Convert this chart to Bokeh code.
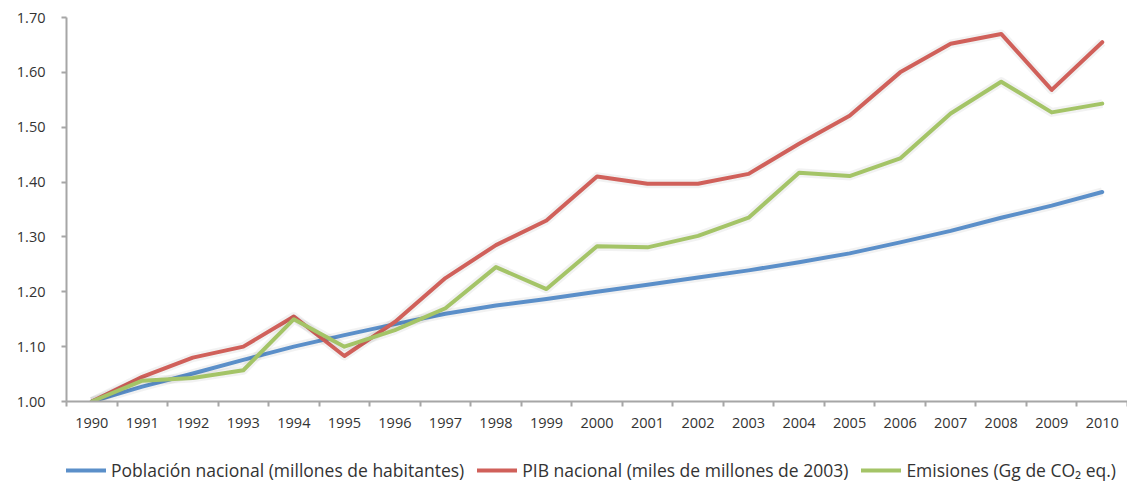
from bokeh.plotting import figure
from bokeh.models import FixedTicker, Legend, LegendItem, CustomJSTickFormatter, NumeralTickFormatter, Range1d
from bokeh.layouts import column
from bokeh.embed import file_html
from bokeh.resources import INLINE

years = list(range(1990, 2011))
poblacion = [1.000, 1.027, 1.051, 1.076, 1.100, 1.121, 1.141, 1.160, 1.175, 1.187, 1.200,
             1.213, 1.226, 1.239, 1.254, 1.270, 1.290, 1.311, 1.335, 1.357, 1.382]
pib = [1.000, 1.045, 1.080, 1.100, 1.155, 1.083, 1.145, 1.225, 1.285, 1.330, 1.410,
       1.397, 1.397, 1.415, 1.470, 1.521, 1.600, 1.652, 1.670, 1.568, 1.655]
emisiones = [1.000, 1.038, 1.043, 1.057, 1.150, 1.100, 1.130, 1.170, 1.245, 1.205, 1.283,
             1.281, 1.302, 1.335, 1.417, 1.411, 1.443, 1.525, 1.583, 1.527, 1.543]
labels = ["Población nacional (millones de habitantes)",
          "PIB nacional (miles de millones de 2003)",
          "Emisiones (Gg de CO\u2082 eq.)"]
colors = ["#5B8FC9", "#D0605A", "#A4C467"]
FONT = "Open Sans"

p = figure(width=1127, height=430, output_backend="svg", toolbar_location=None,
           x_range=Range1d(1989.5, 2010.5), y_range=Range1d(1.0, 1.7))
p.outline_line_color = None
p.xgrid.grid_line_color = None
p.ygrid.grid_line_color = None
p.min_border_left = 66
p.min_border_top = 17
p.min_border_right = 0
p.min_border_bottom = 23

p.xaxis.ticker = FixedTicker(ticks=years, minor_ticks=[y - 0.5 for y in years] + [2010.5])
p.xaxis.major_tick_out = 0
p.xaxis.major_tick_in = 0
p.xaxis.minor_tick_out = 5
p.xaxis.minor_tick_in = 0
p.xaxis.minor_tick_line_color = "#A6A6A6"
p.xaxis.minor_tick_line_width = 2
p.xaxis.formatter = CustomJSTickFormatter(code="return tick.toFixed(0);")

p.yaxis.ticker = FixedTicker(ticks=[1.0, 1.1, 1.2, 1.3, 1.4, 1.5, 1.6, 1.7])
p.yaxis.formatter = NumeralTickFormatter(format="0.00")
p.yaxis.major_tick_out = 5
p.yaxis.major_tick_in = 0
p.yaxis.minor_tick_line_color = None

for ax in (p.xaxis, p.yaxis):
    ax.axis_line_color = "#A6A6A6"
    ax.axis_line_width = 2
    ax.major_tick_line_color = "#A6A6A6"
    ax.major_tick_line_width = 2
    ax.major_label_text_font = FONT
    ax.major_label_text_font_size = "14.5px"
    ax.major_label_text_color = "#333333"
p.xaxis.major_label_standoff = 11
p.yaxis.major_label_standoff = 16

series = [poblacion, pib, emisiones]
for data, c in zip(series, colors):
    p.line(years, data, line_color="#000000", line_alpha=0.05, line_width=9, line_join="round")
    p.line(years, data, line_color=c, line_width=4, line_join="round", line_cap="round")

# legend strip below the chart (its lines lie outside its own view; only the legend shows)
p2 = figure(width=1127, height=52, output_backend="svg", toolbar_location=None,
            x_range=Range1d(0, 1), y_range=Range1d(0, 1),
            x_axis_type=None, y_axis_type=None)
p2.grid.visible = False
p2.outline_line_color = None
p2.min_border_left = 0
p2.min_border_right = 0
p2.min_border_top = 0
p2.min_border_bottom = 0
items = []
for data, c, lab in zip(series, colors, labels):
    r = p2.line(years, data, line_color=c, line_width=4, line_cap="round")
    items.append(LegendItem(label=lab, renderers=[r]))
legend = Legend(items=items, orientation="horizontal", location=(0, 0),
                label_text_font=FONT, label_text_font_size="17.5px", label_text_color="#333333",
                glyph_width=40, spacing=13, border_line_color=None, background_fill_alpha=0,
                margin=0, padding=2, label_standoff=5)
p2.add_layout(legend, "center")

layout = column(p, p2, spacing=0)
open("out.html", "w").write(file_html(layout, INLINE))
